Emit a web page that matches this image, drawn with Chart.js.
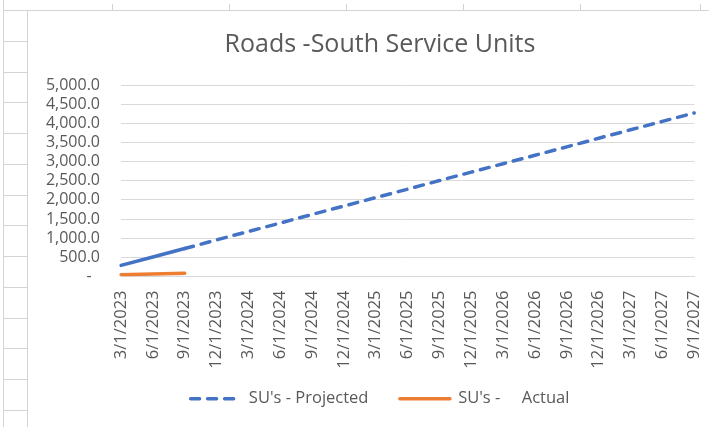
<!DOCTYPE html>
<html>
<head>
<meta charset="utf-8">
<script src="https://cdn.jsdelivr.net/npm/chart.js@4/dist/chart.umd.min.js"></script>
<style>
  html, body { margin: 0; padding: 0; }
  body {
    width: 709px; height: 427px; overflow: hidden; position: relative; background: #fff;
  }
  /* fond "tableur" : colonne de gauche + bord des cellules en haut */
  #sheetLeft {
    position: absolute; left: 3px; top: 0; width: 24px; height: 427px;
    border-left: 1px solid #d4d4d4;
  }
  .row { position: absolute; left: 0; width: 24px; height: 1px; background: #d4d4d4; }
  .colTick { position: absolute; top: 4px; width: 1px; height: 6px; background: #d4d4d4; }
  #chartBox {
    position: absolute; left: 27px; top: 10px; width: 700px; height: 417px;
    background: #fff; border-top: 1px solid #d4d4d4; border-left: 1px solid #d4d4d4;
  }
</style>
</head>
<body>
<div id="sheetLeft">
  <div class="row" style="top:10px"></div>
  <div class="row" style="top:41px"></div>
  <div class="row" style="top:72px"></div>
  <div class="row" style="top:102px"></div>
  <div class="row" style="top:133px"></div>
  <div class="row" style="top:164px"></div>
  <div class="row" style="top:195px"></div>
  <div class="row" style="top:225px"></div>
  <div class="row" style="top:256px"></div>
  <div class="row" style="top:287px"></div>
  <div class="row" style="top:318px"></div>
  <div class="row" style="top:348px"></div>
  <div class="row" style="top:379px"></div>
  <div class="row" style="top:410px"></div>
</div>
<div class="colTick" style="left:112px"></div>
<div class="colTick" style="left:229px"></div>
<div class="colTick" style="left:346px"></div>
<div class="colTick" style="left:463px"></div>
<div class="colTick" style="left:580px"></div>
<div class="colTick" style="left:700px"></div>
<div id="chartBox"><canvas id="myChart" width="700" height="417"></canvas></div>

<script>
// *** DONNEES ***
const categories = ['3/1/2023', '6/1/2023', '9/1/2023', '12/1/2023',
    '3/1/2024', '6/1/2024', '9/1/2024', '12/1/2024',
    '3/1/2025', '6/1/2025', '9/1/2025', '12/1/2025',
    '3/1/2026', '6/1/2026', '9/1/2026', '12/1/2026',
    '3/1/2027', '6/1/2027', '9/1/2027'];

// SU's - Projected (trait plein jusqu'au 9/1/2023, pointillé ensuite)
const projected = [290, 510, 730, 955, 1175, 1395, 1620, 1840, 2060, 2280,
    2505, 2725, 2945, 3165, 3385, 3610, 3830, 4050, 4270];

// SU's - Actual
const actual = [45, 65, 85];

const yTicks = [0, 500, 1000, 1500, 2000, 2500, 3000, 3500, 4000, 4500, 5000];

const grey = '#595959';
const fontFamily = '"Open Sans", "Liberation Sans", sans-serif';
const projectedDash = [9, 8];

// Plugin : élargit la zone de l'axe Y vers la gauche pour ne pas couper ses étiquettes
const widenYAxis = {
    id: 'widenYAxis',
    afterLayout: (chart) => { chart.scales.y.left = 0; }
};

const ctx = document.getElementById('myChart');
new Chart(ctx, {
    type: 'line',
    data: {
        labels: categories,
        datasets: [{
            label: "SU's - Projected",
            data: projected,
            borderColor: '#4472C4',
            backgroundColor: '#4472C4',
            borderWidth: 3.5,
            borderDash: projectedDash,
            borderCapStyle: 'round',
            pointRadius: 0,
            tension: 0,
            segment: {
                // premier tronçon (3/1 -> 9/1/2023) en trait plein
                borderDash: (c) => c.p0DataIndex < 2 ? [] : undefined
            }
        }, {
            label: "SU's -     Actual",
            data: actual,
            borderColor: '#ED7D31',
            backgroundColor: '#ED7D31',
            borderWidth: 3.5,
            borderCapStyle: 'round',
            pointRadius: 0,
            tension: 0
        }]
    },
    plugins: [widenYAxis],
    options: {
        responsive: false,
        animation: false,
        layout: { padding: { left: 34, right: 30, top: 0, bottom: 11 } },
        plugins: {
            title: {
                display: true,
                text: 'Roads -South Service Units',
                color: grey,
                font: { family: fontFamily, size: 25, weight: 'normal' },
                padding: { top: 19, bottom: 25 }
            },
            legend: {
                position: 'bottom',
                labels: {
                    color: grey,
                    font: { family: fontFamily, size: 16.5 },
                    usePointStyle: true,
                    pointStyle: 'line',
                    pointStyleWidth: 50,
                    padding: 10,
                    // pointillé dans la légende + espace entre les deux entrées
                    generateLabels: (chart) => {
                        const items = Chart.defaults.plugins.legend.labels.generateLabels(chart);
                        items.forEach((it) => {
                            const ds = chart.data.datasets[it.datasetIndex];
                            it.lineDash = ds.borderDash || [];
                            it.lineCap = 'round';
                            it.lineWidth = 3.5;
                            it.strokeStyle = ds.borderColor;
                            if (it.datasetIndex === 0) it.text = it.text + '     ';
                        });
                        return items;
                    }
                }
            },
            tooltip: { enabled: false }
        },
        scales: {
            x: {
                grid: { display: false, drawTicks: false },
                border: { display: true, color: '#d9d9d9' },
                ticks: {
                    color: grey,
                    font: { family: fontFamily, size: 16.5 },
                    minRotation: 90,
                    maxRotation: 90,
                    autoSkip: false,
                    padding: 14
                },
                afterFit: (s) => { s.height = 104; }
            },
            y: {
                min: 0,
                max: 5000,
                afterBuildTicks: (s) => { s.ticks = yTicks.map(v => ({ value: v })); },
                grid: { color: '#d9d9d9', drawTicks: false },
                border: { display: false },
                ticks: {
                    color: grey,
                    font: { family: fontFamily, size: 16 },
                    padding: 21,
                    autoSkip: false,
                    callback: (v) => v === 0 ? '-  ' : v.toLocaleString('en-US', { minimumFractionDigits: 1, maximumFractionDigits: 1 })
                },
                afterFit: (s) => { s.width = 59; }
            }
        }
    }
});
</script>
</body>
</html>
